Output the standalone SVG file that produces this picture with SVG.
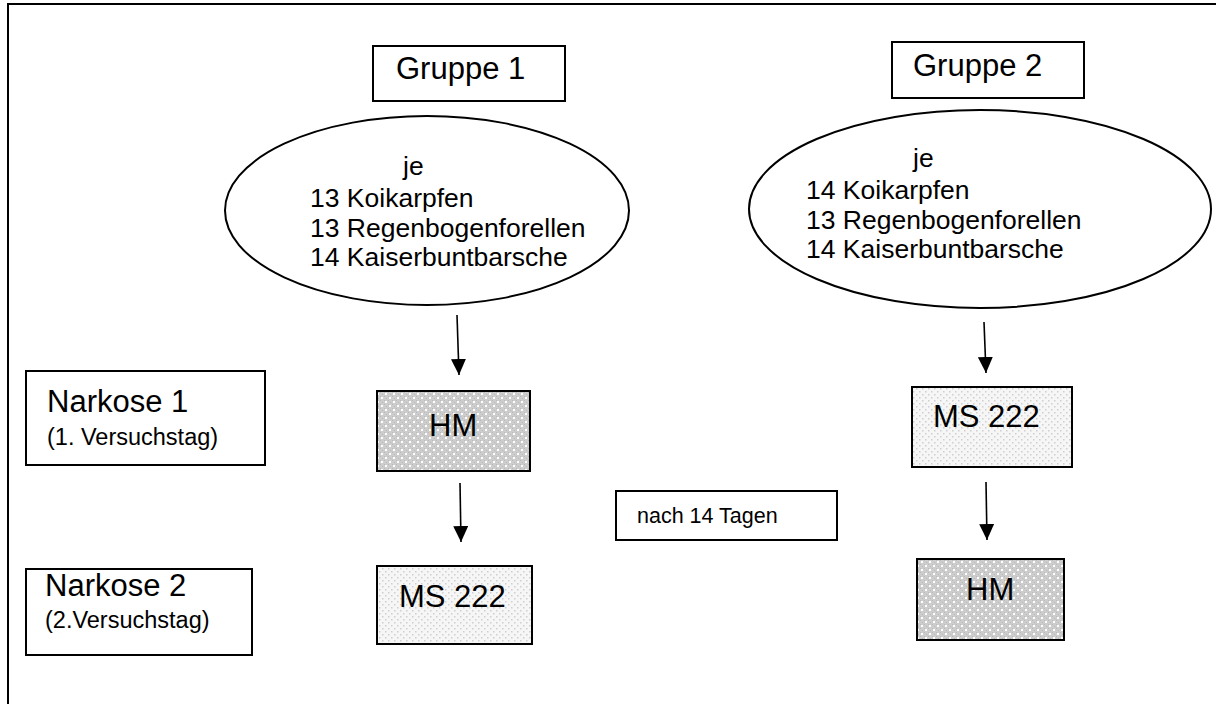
<svg xmlns="http://www.w3.org/2000/svg" width="1216" height="704" viewBox="0 0 1216 704">
<style>
.box{fill:#fff;stroke:#000;stroke-width:2}
.hm{fill:url(#dark);stroke:#000;stroke-width:2}
.ms{fill:url(#light);stroke:#000;stroke-width:2}
.ell{fill:#fff;stroke:#000;stroke-width:2}
text{font-family:"Liberation Sans",Arial,sans-serif;fill:#000}
.big{font-size:31px}
.mid{font-size:26.5px}
.sub{font-size:23.5px}
.sm{font-size:21.5px}
.con{stroke:#000;stroke-width:1.6;fill:none;marker-end:url(#arr)}
</style>
<defs>
<pattern id="dark" width="8" height="8" patternUnits="userSpaceOnUse">
<rect width="8" height="8" fill="#cdcdcd"/>
<rect x="0" y="0" width="1" height="1" fill="#b8b8b8"/>
<rect x="2" y="2" width="1" height="1" fill="#b8b8b8"/>
<rect x="4" y="0" width="1" height="1" fill="#b8b8b8"/>
<rect x="6" y="2" width="1" height="1" fill="#b8b8b8"/>
<rect x="0" y="4" width="1" height="1" fill="#b8b8b8"/>
<rect x="4" y="4" width="1" height="1" fill="#b8b8b8"/>
<rect x="2" y="6" width="1" height="1" fill="#b8b8b8"/>
<rect x="6" y="6" width="1" height="1" fill="#b8b8b8"/>
<rect x="1" y="1" width="2" height="2" fill="#ffffff"/>
<rect x="5" y="5" width="2" height="2" fill="#ffffff"/>
</pattern>
<pattern id="light" width="6" height="6" patternUnits="userSpaceOnUse">
<rect width="6" height="6" fill="#f6f6f6"/>
<rect x="1" y="1" width="1.5" height="1.5" fill="#cfcfcf"/>
<rect x="4" y="4" width="1.5" height="1.5" fill="#cfcfcf"/>
</pattern>
<marker id="arr" markerUnits="userSpaceOnUse" markerWidth="16" markerHeight="16" refX="16" refY="7.5" orient="auto">
<path d="M0,0 L16,7.5 L0,15 Z" fill="#000"/>
</marker>
</defs>
<rect x="8" y="4" width="1230" height="720" fill="none" stroke="#000" stroke-width="2"/>
<g id="gruppe1">
<rect class="box" x="373" y="46" width="192" height="55"/>
<text class="big" x="396" y="79">Gruppe 1</text>
</g>
<g id="gruppe2">
<rect class="box" x="892" y="42" width="192" height="56"/>
<text class="big" x="913" y="76">Gruppe 2</text>
</g>
<g id="ellipse1">
<ellipse class="ell" cx="427" cy="210.5" rx="202" ry="94.5"/>
<text class="mid" x="403" y="175">je</text>
<text class="mid" x="310" y="207">13 Koikarpfen</text>
<text class="mid" x="310" y="237">13 Regenbogenforellen</text>
<text class="mid" x="310" y="266">14 Kaiserbuntbarsche</text>
</g>
<g id="ellipse2">
<ellipse class="ell" cx="980" cy="209" rx="231" ry="99"/>
<text class="mid" x="913" y="167">je</text>
<text class="mid" x="806" y="199">14 Koikarpfen</text>
<text class="mid" x="806" y="229">13 Regenbogenforellen</text>
<text class="mid" x="806" y="258">14 Kaiserbuntbarsche</text>
</g>
<g id="narkose1">
<rect class="box" x="26" y="371" width="239" height="94"/>
<text class="big" x="47" y="412">Narkose 1</text>
<text class="sub" x="47" y="445">(1. Versuchstag)</text>
</g>
<g id="narkose2">
<rect class="box" x="26" y="569" width="226" height="86"/>
<text class="big" x="45" y="596">Narkose 2</text>
<text class="sub" x="45" y="628">(2.Versuchstag)</text>
</g>
<g id="hm1">
<rect class="hm" x="377" y="391" width="153" height="80"/>
<text class="big" x="429" y="436">HM</text>
</g>
<g id="ms1">
<rect class="ms" x="377" y="566" width="155" height="78"/>
<text class="big" x="399" y="607">MS 222</text>
</g>
<g id="ms2">
<rect class="ms" x="912" y="387" width="160" height="80"/>
<text class="big" x="933" y="427">MS 222</text>
</g>
<g id="hm2">
<rect class="hm" x="917" y="559" width="147" height="81"/>
<text class="big" x="966" y="600">HM</text>
</g>
<g id="nach14">
<rect class="box" x="616" y="491" width="221" height="49"/>
<text class="sm" x="637" y="523">nach 14 Tagen</text>
</g>
<g id="connectors">
<line class="con" x1="457" y1="315" x2="459" y2="375"/>
<line class="con" x1="460" y1="483" x2="461" y2="542"/>
<line class="con" x1="984" y1="322" x2="986" y2="373"/>
<line class="con" x1="986" y1="482" x2="987" y2="540"/>
</g>
</svg>
